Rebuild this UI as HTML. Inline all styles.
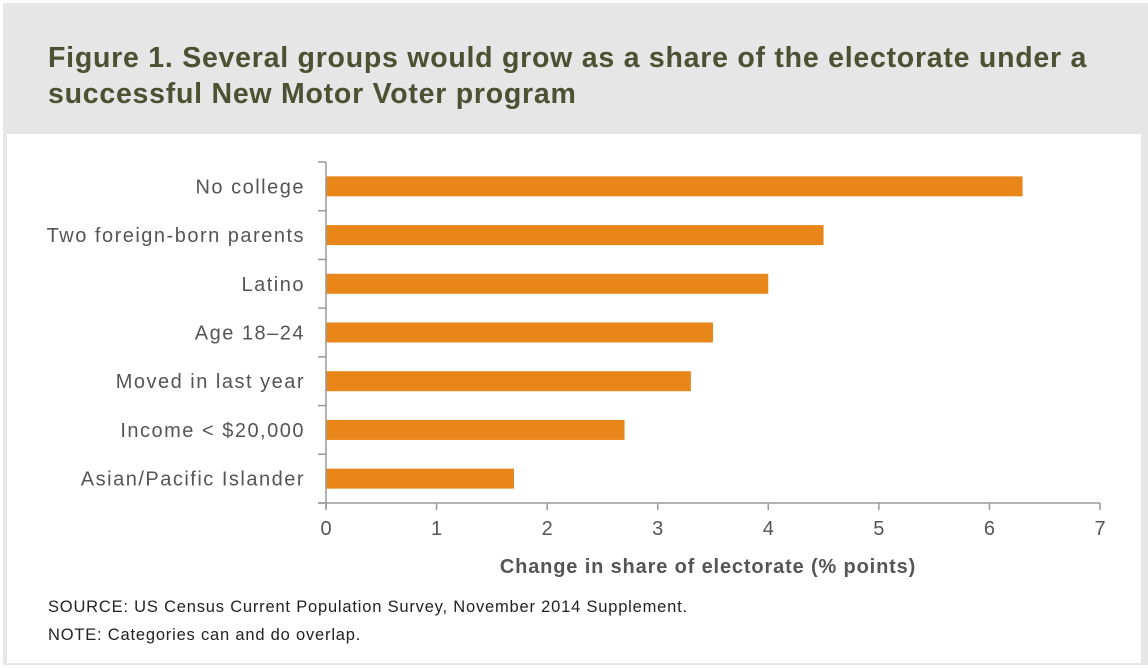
<!DOCTYPE html>
<html><head><meta charset="utf-8"><style>
body{margin:0;width:1148px;height:668px;background:#fff;font-family:"Liberation Sans",sans-serif;overflow:hidden}
#frame{position:absolute;left:3px;top:3px;width:1145px;height:662px;background:#e6e6e6}
#panel{position:absolute;left:7px;top:134px;width:1134px;height:529px;background:#fff}
#title{position:absolute;left:48px;top:40px;font-size:28.5px;font-weight:bold;color:#4b5132;line-height:36px;letter-spacing:0.75px;white-space:nowrap}
.note{position:absolute;left:48px;font-size:16.5px;color:#222;letter-spacing:0.8px;white-space:nowrap}
</style></head><body>
<div id="frame"></div>
<div id="panel"></div>
<div id="title">Figure 1. Several groups would grow as a share of the electorate under a<br>successful New Motor Voter program</div>
<svg id="chart" width="1148" height="668" style="position:absolute;left:0;top:0"></svg>
<div class="note" style="top:598px">SOURCE: US Census Current Population Survey, November 2014 Supplement.</div>
<div class="note" style="top:626px">NOTE: Categories can and do overlap.</div>
<script>
const categories=["No college","Two foreign-born parents","Latino","Age 18–24","Moved in last year","Income < $20,000","Asian/Pacific Islander"];
const values=[6.3,4.5,4.0,3.5,3.3,2.7,1.7];
const ticks=[0,1,2,3,4,5,6,7];
const svg=document.getElementById('chart');
const NS='http://www.w3.org/2000/svg';
const x0=326,x1=1100,y0=162,y1=503,band=(y1-y0)/categories.length;
const xs=v=>x0+(v-ticks[0])/(ticks[ticks.length-1]-ticks[0])*(x1-x0);
function mk(t,a,txt){const e=document.createElementNS(NS,t);for(const k in a)e.setAttribute(k,a[k]);if(txt!=null)e.textContent=txt;svg.appendChild(e);return e;}
categories.forEach((c,i)=>{
  const cy=y0+band*(i+0.5);
  const r=mk('rect',{x:x0,y:cy-10,width:xs(values[i])-x0,height:20,fill:'#e8861a'});
  
  
  const t=mk('text',{x:305,y:cy+7,'text-anchor':'end','font-size':20,'letter-spacing':1.5,fill:'#555'},c);
  
  
});
for(let i=0;i<=categories.length;i++){
  const y=y0+band*i;
  const tk=mk('line',{x1:x0-8,x2:x0,y1:y,y2:y,stroke:'#999','stroke-width':1.5});
  
  
}
const ya=mk('line',{x1:x0,x2:x0,y1:y0,y2:y1+6,stroke:'#999','stroke-width':1.5});


const xa=mk('line',{x1:x0-8,x2:x1,y1:y1,y2:y1,stroke:'#999','stroke-width':1.5});


ticks.forEach(v=>{
  const l=mk('line',{x1:xs(v),x2:xs(v),y1:y1,y2:y1+7,stroke:'#999','stroke-width':1.5});
  
  
  const t=mk('text',{x:xs(v),y:535,'text-anchor':'middle','font-size':20,fill:'#555'},String(v));
  
  
});
const at=mk('text',{x:708,y:573,'text-anchor':'middle','font-size':20,'font-weight':'bold','letter-spacing':0.85,fill:'#555'},'Change in share of electorate (% points)');


</script>
</body></html>
